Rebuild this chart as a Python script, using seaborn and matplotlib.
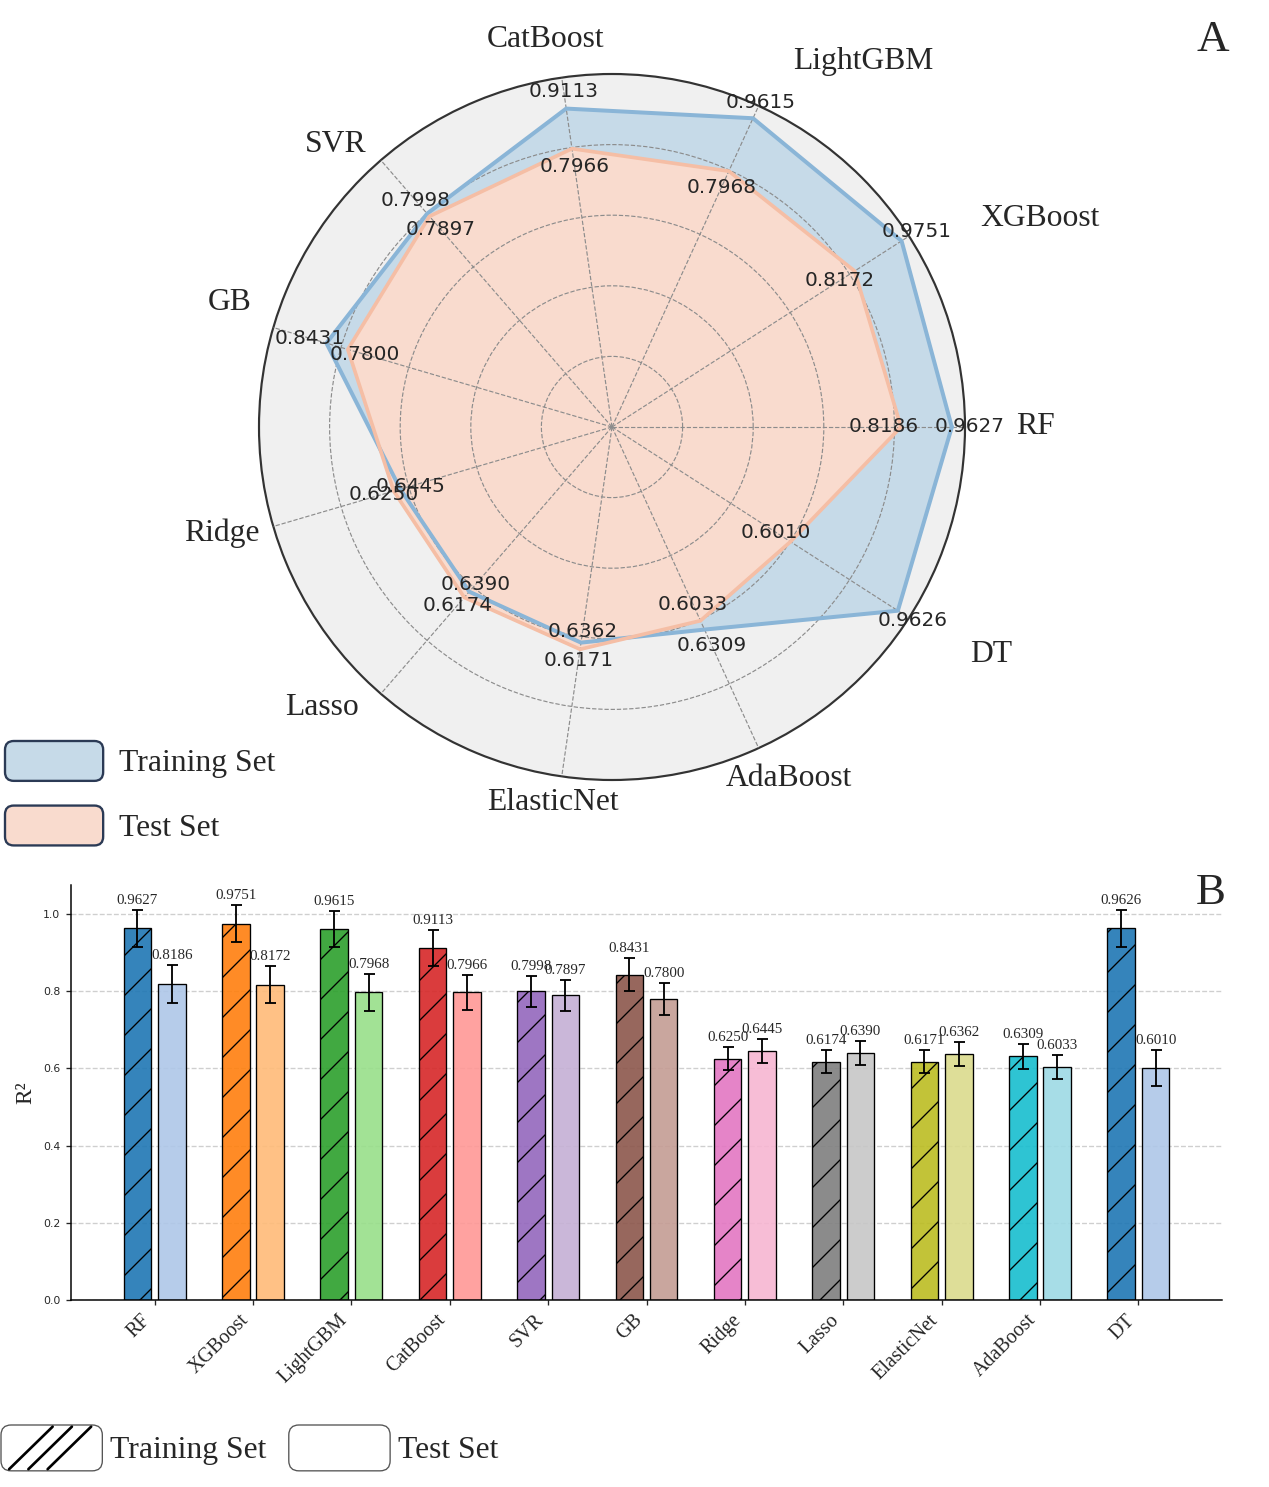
"""Radar + grouped bar comparison of R2 scores for eleven regression models."""

import matplotlib.pyplot as plt
import numpy as np
import pandas as pd
import seaborn as sns
from matplotlib.colors import to_rgba
from matplotlib.legend_handler import HandlerPatch
from matplotlib.lines import Line2D
from matplotlib.patches import FancyBboxPatch, Patch


models = ["RF", "XGBoost", "LightGBM", "CatBoost", "SVR", "GB",
          "Ridge", "Lasso", "ElasticNet", "AdaBoost", "DT"]
train_r2 = [0.9627, 0.9751, 0.9615, 0.9113, 0.7998, 0.8431,
            0.6250, 0.6174, 0.6171, 0.6309, 0.9626]
test_r2 = [0.8186, 0.8172, 0.7968, 0.7966, 0.7897, 0.7800,
           0.6445, 0.6390, 0.6362, 0.6033, 0.6010]
train_err = [0.048, 0.049, 0.047, 0.046, 0.040, 0.042,
             0.030, 0.029, 0.030, 0.032, 0.048]
test_err = [0.048, 0.049, 0.048, 0.045, 0.040, 0.041,
            0.031, 0.031, 0.031, 0.031, 0.047]

# where the model names sit around the radar (angle in degrees, radius)
label_layout = {
    "RF": (0, 1.20), "XGBoost": (26, 1.35), "LightGBM": (55.5, 1.255),
    "CatBoost": (99.8, 1.113), "SVR": (134.4, 1.119), "GB": (162, 1.139),
    "Ridge": (195.2, 1.144), "Lasso": (224, 1.142), "ElasticNet": (261, 1.076),
    "AdaBoost": (296.7, 1.116), "DT": (329, 1.252),
}

DPI = 120
W, H = 1269, 1487

sns.set_theme(style="ticks")
plt.rcParams["font.family"] = ["Liberation Serif", "DejaVu Sans"]
plt.rcParams["hatch.linewidth"] = 0.8

TRAIN_FILL, TRAIN_LINE = "#c6dae8", "#8ab5d7"
TEST_FILL, TEST_LINE = "#f9dbce", "#f5bea5"


class RoundBoxHandler(HandlerPatch):
    """Legend handle drawn as a rounded box, with three slashes if hatched."""

    def create_artists(self, legend, orig_handle, xdescent, ydescent,
                       width, height, fontsize, trans):
        x0, y0 = -xdescent, -ydescent
        box = FancyBboxPatch(
            (x0, y0), width, height,
            boxstyle=f"round,pad=0,rounding_size={0.22 * height}",
            facecolor=orig_handle.get_facecolor(),
            edgecolor=orig_handle.get_edgecolor(),
            linewidth=orig_handle.get_linewidth(),
            transform=trans,
        )
        artists = [box]
        if orig_handle.get_hatch():
            for frac in (0.08, 0.27, 0.46):
                xs = x0 + frac * width
                artists.append(Line2D([xs, xs + height * 0.95], [y0 + 1, y0 + height - 1],
                                      color="black", linewidth=1.6, transform=trans))
        return artists


fig = plt.figure(figsize=(W / DPI, H / DPI), dpi=DPI)

# ---------------- A: radar ----------------
ax_r = fig.add_axes([259 / W, 1 - 780 / H, 706 / W, 706 / H], projection="polar")
theta = np.linspace(0, 2 * np.pi, len(models), endpoint=False)
theta_c = np.append(theta, theta[0])
train_c = np.append(train_r2, train_r2[0])
test_c = np.append(test_r2, test_r2[0])

ax_r.set_facecolor("#f0f0f0")
ax_r.set_axisbelow(False)
ax_r.fill(theta_c, train_c, color=TRAIN_FILL, zorder=1)
ax_r.fill(theta_c, test_c, color=TEST_FILL, zorder=1.1)
ax_r.plot(theta_c, train_c, color=TRAIN_LINE, linewidth=2.4, zorder=3)
ax_r.plot(theta_c, test_c, color=TEST_LINE, linewidth=2.2, zorder=3.1)

ax_r.set_ylim(0, 1)
ax_r.set_yticks([0.2, 0.4, 0.6, 0.8])
ax_r.set_yticklabels([])
ax_r.set_xticks(theta)
ax_r.set_xticklabels([])
ax_r.grid(True, color="#8c8c8c", linestyle="--", linewidth=0.7)
ax_r.spines["polar"].set_color("#333333")
ax_r.spines["polar"].set_linewidth(1.3)

for t, tr, te in zip(theta, train_r2, test_r2):
    ax_r.text(t, tr + 0.05, f"{tr:.4f}", ha="center", va="center",
              fontsize=12, family="DejaVu Sans", zorder=5)
    ax_r.text(t, te - 0.05, f"{te:.4f}", ha="center", va="center",
              fontsize=12, family="DejaVu Sans", zorder=5)

for name in models:
    ang, rad = label_layout[name]
    ax_r.text(np.deg2rad(ang), rad, name, ha="center", va="center",
              fontsize=19, clip_on=False)

radar_handles = [
    Patch(facecolor=TRAIN_FILL, edgecolor="#2b3a55", linewidth=1.4, label="Training Set"),
    Patch(facecolor=TEST_FILL, edgecolor="#2b3a55", linewidth=1.4, label="Test Set"),
]
fig.legend(handles=radar_handles, loc="upper left", bbox_to_anchor=(5 / W, 1 - 741 / H),
           frameon=False, fontsize=19, handlelength=3.1, handleheight=1.56,
           handletextpad=0.5, labelspacing=0.78, borderpad=0, borderaxespad=0,
           handler_map={Patch: RoundBoxHandler()})

fig.text(1213 / W, 1 - 40 / H, "A", ha="center", va="center", fontsize=27)

# ---------------- B: bars ----------------
ax_b = fig.add_axes([71 / W, 1 - 1300 / H, 1151 / W, 415 / H])
bar_df = pd.DataFrame({
    "model": models * 2,
    "R2": train_r2 + test_r2,
    "set": ["Training Set"] * len(models) + ["Test Set"] * len(models),
})
sns.barplot(data=bar_df, x="model", y="R2", hue="set", width=0.7, gap=0.2,
            errorbar=None, legend=False, ax=ax_b)

pal = sns.color_palette("tab20")
dark = [pal[2 * (i % 10)] for i in range(len(models))]
light = [pal[2 * (i % 10) + 1] for i in range(len(models))]

for container, colors, errs, vals, hatch in (
    (ax_b.containers[0], dark, train_err, train_r2, "/"),
    (ax_b.containers[1], light, test_err, test_r2, None),
):
    xs = []
    for bar, c in zip(container, colors):
        bar.set_facecolor(to_rgba(c, 0.9))
        bar.set_edgecolor("black")
        bar.set_linewidth(0.8)
        if hatch:
            bar.set_hatch(hatch)
        xs.append(bar.get_x() + bar.get_width() / 2)
    ax_b.errorbar(xs, vals, yerr=errs, fmt="none", ecolor="black",
                  elinewidth=1.1, capsize=3.3, capthick=1.1, zorder=4)
    for x, v, e in zip(xs, vals, errs):
        ax_b.text(x, v + e + 0.008, f"{v:.4f}", ha="center", va="bottom", fontsize=9)

ax_b.set_xlim(-0.85, len(models) - 0.15)
ax_b.set_ylim(0, 1.075)
ax_b.set_yticks(np.arange(0, 1.01, 0.2))
ax_b.yaxis.grid(True, linestyle="--", color="#cfcfcf", linewidth=0.8)
ax_b.set_axisbelow(True)
ax_b.set_xlabel("")
ax_b.set_ylabel("R²", fontsize=14)
ax_b.tick_params(axis="y", labelsize=6.5, length=3, width=0.8)
ax_b.tick_params(axis="x", length=3, width=0.8)
for lab in ax_b.get_yticklabels():
    lab.set_family("DejaVu Sans")
ax_b.set_xticks(range(len(models)))
ax_b.set_xticklabels(models, rotation=45, ha="right", fontsize=12)
for side in ("left", "bottom"):
    ax_b.spines[side].set_color("black")
    ax_b.spines[side].set_linewidth(0.9)
sns.despine(ax=ax_b)

bar_handles = [
    Patch(facecolor="white", edgecolor="#555555", linewidth=0.8, hatch="/", label="Training Set"),
    Patch(facecolor="white", edgecolor="#555555", linewidth=0.8, label="Test Set"),
]
fig.legend(handles=bar_handles, loc="upper left", bbox_to_anchor=(1 / W, 1 - 1425 / H),
           ncol=2, frameon=False, fontsize=19, handlelength=3.2, handleheight=1.85,
           handletextpad=0.25, columnspacing=0.7, borderpad=0, borderaxespad=0,
           handler_map={Patch: RoundBoxHandler()})

fig.text(1211 / W, 1 - 893 / H, "B", ha="center", va="center", fontsize=27)

fig.savefig("out.png", dpi=DPI)
plt.close(fig)
